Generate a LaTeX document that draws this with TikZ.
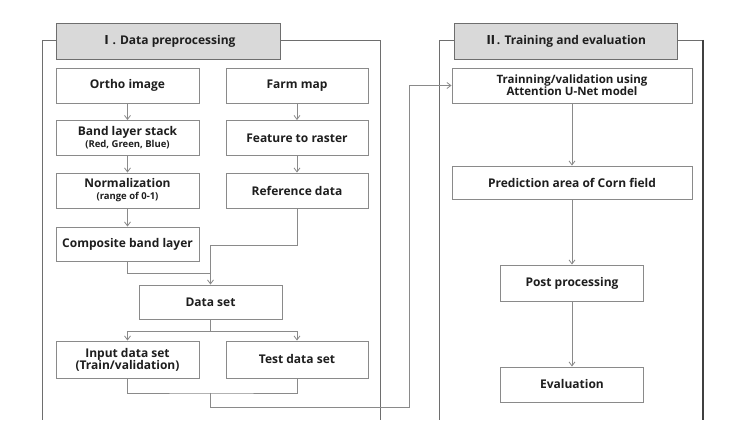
\documentclass[tikz,border=0pt]{standalone}
\usepackage{fontspec}
\setmainfont{Open Sans}
\newfontfamily\cjk{Noto Sans CJK KR}
\usetikzlibrary{arrows.meta}
\definecolor{boxline}{HTML}{8A8A8A}
\definecolor{frameline}{HTML}{6E6E6E}
\definecolor{hdrfill}{HTML}{D9D9D9}
\definecolor{txt}{HTML}{1E1E1E}
\tikzset{
  box/.style={draw=boxline, line width=0.9pt, fill=white, text=txt, align=center, inner sep=1pt,
    font=\fontsize{12}{14}\selectfont\bfseries},
  hdr/.style={box, fill=hdrfill, draw=frameline},
  frame/.style={draw=frameline, line width=0.9pt},
  conn/.style={draw=boxline, line width=0.8pt},
  arr/.style={conn, -{Straight Barb[length=4pt,width=6pt]}}
}
\newcommand{\smalltxt}[1]{{\fontsize{9.5}{11}\selectfont #1}}
\begin{document}
\begin{tikzpicture}[x=1pt,y=-1pt]
\useasboundingbox[fill=white] (0,0) rectangle (753,427);
% frames
\draw[frame] (56,40) -- (42,40) -- (42,420);
\draw[frame] (280,40) -- (380,40) -- (380,420);
\draw[frame] (454,40) -- (439,40) -- (439,420);
\draw[frame] (677,40) -- (703,40);
\draw[frame, line width=1.3pt, draw=black!75] (703,40) -- (703,420);
% headers
\node[hdr, minimum width=224pt, minimum height=36pt] (h1) at (168,41) {{\cjk\bfseries Ⅰ}. Data preprocessing};
\node[hdr, minimum width=223pt, minimum height=36pt] (h2) at (565.5,41) {{\cjk\bfseries Ⅱ}. Training and evaluation};
% left column
\node[box, minimum width=143pt, minimum height=35pt] (ortho) at (127.5,85.5) {Ortho image};
\node[box, minimum width=143pt, minimum height=35pt] (band) at (127.5,138) {Band layer stack\\[-2pt]\smalltxt{(Red, Green, Blue)}};
\node[box, minimum width=143pt, minimum height=35pt] (norm) at (127.5,190.5) {Normalization\\[-2pt]\smalltxt{(range of 0-1)}};
\node[box, minimum width=143pt, minimum height=34pt] (comp) at (127.5,244) {Composite band layer};
% right column
\node[box, minimum width=142pt, minimum height=35pt] (farm) at (297,85.5) {Farm map};
\node[box, minimum width=142pt, minimum height=35pt] (feat) at (297,138) {Feature to raster};
\node[box, minimum width=142pt, minimum height=35pt] (ref) at (297,190.5) {Reference data};
% data set
\node[box, minimum width=143pt, minimum height=34pt] (ds) at (210.5,302) {Data set};
\node[box, minimum width=143pt, minimum height=37pt] (inp) at (127.5,359.5) {Input data set\\[-2pt](Train/validation)};
\node[box, minimum width=142pt, minimum height=37pt] (test) at (297,359.5) {Test data set};
% part II
\node[box, minimum width=240pt, minimum height=35pt] (train) at (572,85.5) {\fontsize{11.5}{13}\selectfont Trainning/validation using\\[-2pt]\fontsize{11.5}{13}\selectfont Attention U-Net model};
\node[box, minimum width=240pt, minimum height=33pt] (pred) at (572,182.5) {Prediction area of Corn field};
\node[box, minimum width=143pt, minimum height=36pt] (post) at (572,283) {Post processing};
\node[box, minimum width=143pt, minimum height=35pt] (eval) at (572,384.5) {Evaluation};
% arrows left
\draw[arr] (ortho) -- (band);
\draw[arr] (band) -- (norm);
\draw[arr] (norm) -- (comp);
\draw[arr] (farm) -- (feat);
\draw[arr] (feat) -- (ref);
\draw[conn] (comp.south) |- ([yshift=11pt]ds.north);
\draw[arr] (ref.south) |- ([yshift=39pt]ds.north) -- (ds.north);
\draw[conn] (ds.south) -- ++(0,12) coordinate (split);
\draw[arr] (split) -| (inp.north);
\draw[arr] (split) -| (test.north);
\draw[conn] (inp.south) |- (ds.south |- 0,393) coordinate (join) -| (test.south);
\coordinate (turn) at (409,407);
\draw[arr] (join) |- (turn) |- (train.west);
% arrows right
\draw[arr] (train) -- (pred);
\draw[arr] (pred) -- (post);
\draw[arr] (post) -- (eval);
\end{tikzpicture}
\end{document}
